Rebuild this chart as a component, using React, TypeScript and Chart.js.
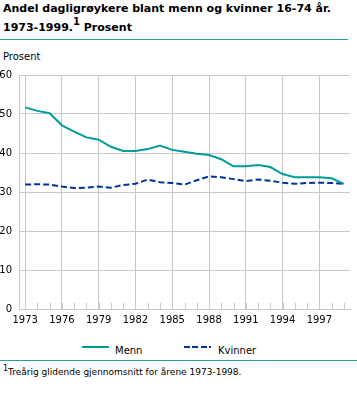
import React, { useEffect, useRef } from 'react';
import { Chart, registerables } from 'chart.js';

Chart.register(...registerables);

const years = ['1973', '1974', '1975', '1976', '1977', '1978', '1979', '1980', '1981', '1982', '1983', '1984', '1985', '1986', '1987', '1988', '1989', '1990', '1991', '1992', '1993', '1994', '1995', '1996', '1997', '1998', '1999'];
const menn = [51.7, 50.8, 50.2, 47.1, 45.5, 44.0, 43.4, 41.6, 40.5, 40.5, 41.0, 41.9, 40.8, 40.3, 39.8, 39.5, 38.4, 36.6, 36.6, 36.9, 36.4, 34.6, 33.8, 33.8, 33.8, 33.5, 32.1];
const kvinner = [31.9, 32.0, 31.9, 31.4, 31.0, 31.1, 31.4, 31.1, 31.8, 32.1, 33.2, 32.5, 32.3, 31.9, 33.0, 34.0, 33.8, 33.3, 32.8, 33.2, 32.9, 32.4, 32.1, 32.3, 32.4, 32.3, 32.1];
const yMin = 0;
const yMax = 60;
const yStep = 10;

const TEAL = '#009c97';
const NAVY = '#003399';
const RULE = '#2a9a9a';
const GRID = '#c8c8c8';
const FONT = '"DejaVu Sans", Verdana, sans-serif';

const minorTicks = {
  id: 'minorTicks',
  beforeDatasetsDraw(chart: any) {
    const xs = chart.scales.x;
    const bottom = chart.chartArea.bottom;
    const ctx = chart.ctx;
    ctx.save();
    ctx.strokeStyle = GRID;
    ctx.lineWidth = 1;
    ctx.beginPath();
    for (let i = 0; i < years.length; i++) {
      const px = Math.round(xs.getPixelForValue(i)) + 0.5;
      ctx.moveTo(px, bottom);
      ctx.lineTo(px, bottom - 6);
    }
    ctx.stroke();
    ctx.restore();
  },
};

export default function App() {
  const ref = useRef<HTMLCanvasElement | null>(null);

  useEffect(() => {
    document.body.style.margin = '0';
    if (!ref.current) return;
    const chart = new Chart(ref.current, {
      type: 'line',
      data: {
        labels: years,
        datasets: [
          {
            label: 'Menn',
            data: menn,
            borderColor: TEAL,
            backgroundColor: TEAL,
            borderWidth: 2,
            pointRadius: 0,
            tension: 0,
          },
          {
            label: 'Kvinner',
            data: kvinner,
            borderColor: NAVY,
            backgroundColor: NAVY,
            borderWidth: 2,
            borderDash: [6, 3],
            pointRadius: 0,
            tension: 0,
          },
        ],
      },
      options: {
        animation: false,
        responsive: false,
        layout: { padding: { top: 12, right: 7, left: 0, bottom: 0 } },
        plugins: {
          legend: { display: false },
          tooltip: { enabled: false },
        },
        scales: {
          x: {
            type: 'category',
            offset: true,
            grid: {
              offset: false,
              color: (c: any) => (c.index % 3 === 0 ? GRID : 'rgba(0,0,0,0)'),
              drawTicks: false,
              lineWidth: 1,
            },
            border: { color: GRID },
            ticks: {
              autoSkip: false,
              maxRotation: 0,
              padding: 5,
              color: '#000',
              font: { family: FONT, size: 10 },
              callback: (_v: any, i: number) => (i % 3 === 0 ? years[i] : ''),
            },
            afterFit: (s: any) => {
              s.height = 21;
            },
          },
          y: {
            min: yMin,
            max: yMax,
            grid: { color: GRID, drawTicks: false, lineWidth: 1 },
            border: { color: GRID },
            ticks: {
              stepSize: yStep,
              padding: 7,
              color: '#000',
              font: { family: FONT, size: 10 },
            },
            afterFit: (s: any) => {
              s.width = 19;
            },
          },
        },
      },
      plugins: [minorTicks],
    });
    return () => chart.destroy();
  }, []);

  const txt = { fontFamily: FONT, fontSize: 10, lineHeight: '12px', color: '#000', position: 'absolute' as const, whiteSpace: 'nowrap' as const };

  return (
    <div style={{ position: 'relative', width: 357, height: 416, background: '#fff', overflow: 'hidden' }}>
      <div style={{ position: 'absolute', left: 3, top: 2, fontFamily: FONT, fontWeight: 'bold', fontSize: 11, lineHeight: '13px', whiteSpace: 'nowrap', color: '#000' }}>
        Andel dagligrøykere blant menn og kvinner 16-74 år.
      </div>
      <div style={{ position: 'absolute', left: 3, top: 20.7, fontFamily: FONT, fontWeight: 'bold', fontSize: 11, lineHeight: '13px', whiteSpace: 'nowrap', color: '#000' }}>
        1973-1999.<span style={{ fontSize: 10, position: 'relative', top: -6 }}>1</span> Prosent
      </div>
      <div style={{ position: 'absolute', left: 0, top: 39, width: 348, height: 1, background: RULE }} />
      <div style={{ ...txt, left: 3, top: 50.5 }}>Prosent</div>
      <div style={{ position: 'absolute', left: 0, top: 62, width: 357, height: 268 }}>
        <canvas ref={ref} width={357} height={268} style={{ display: 'block' }} />
      </div>
      <div style={{ position: 'absolute', left: 82, top: 346, width: 27, height: 2, background: TEAL }} />
      <div style={{ ...txt, left: 115, top: 344.5 }}>Menn</div>
      <div style={{ position: 'absolute', left: 184, top: 346, width: 27, height: 2, background: `repeating-linear-gradient(to right, ${NAVY} 0 6px, transparent 6px 8.5px)` }} />
      <div style={{ ...txt, left: 218, top: 344.5 }}>Kvinner</div>
      <div style={{ position: 'absolute', left: 0, top: 360, width: 357, height: 1, background: RULE }} />
      <div style={{ ...txt, left: 3, top: 366, fontSize: 9 }}>
        <span style={{ fontSize: 8, position: 'relative', top: -4 }}>1</span>Treårig glidende gjennomsnitt for årene 1973-1998.
      </div>
    </div>
  );
}
